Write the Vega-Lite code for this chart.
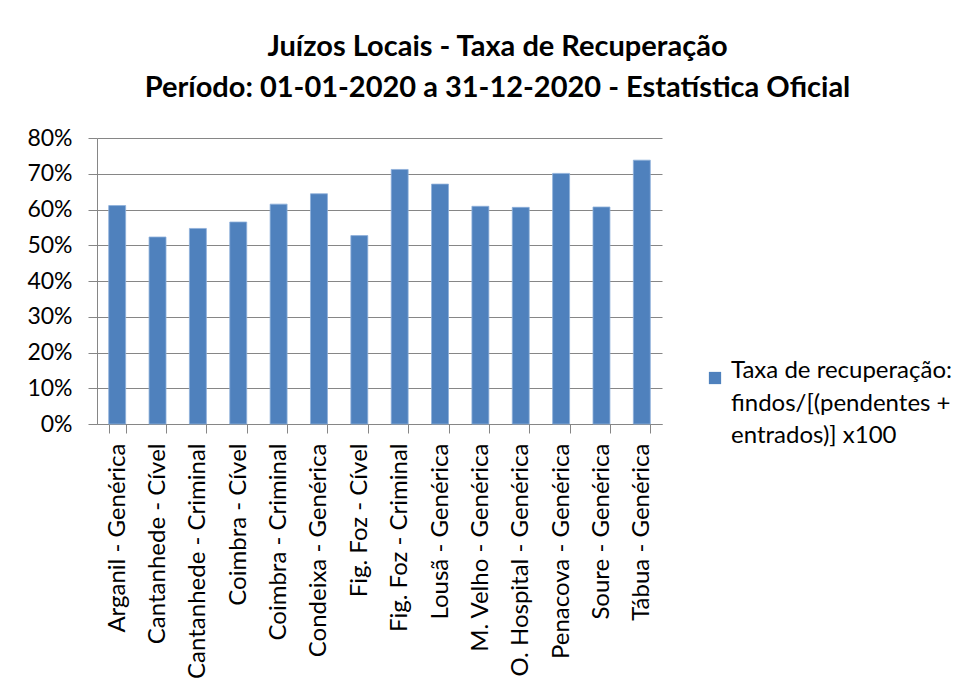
{
  "$schema": "https://vega.github.io/schema/vega-lite/v6.json",
  "width": 565,
  "height": 286,
  "autosize": {"type": "none"},
  "padding": {"left": 97, "top": 138, "right": 312, "bottom": 271},
  "background": "white",
  "title": {
    "text": ["Juízos Locais - Taxa de Recuperação", "Período: 01-01-2020 a 31-12-2020 - Estatística Oficial"],
    "font": "Lato",
    "fontSize": 29,
    "fontWeight": "bold",
    "color": "#000000",
    "lineHeight": 41,
    "anchor": "middle",
    "frame": "group",
    "dx": 118,
    "offset": 24
  },
  "data": {
    "values": [
      {"tribunal": "Arganil - Genérica", "taxa": 0.611, "serie": "Taxa de recuperação:|findos/[(pendentes +|entrados)] x100"},
      {"tribunal": "Cantanhede - Cível", "taxa": 0.523, "serie": "Taxa de recuperação:|findos/[(pendentes +|entrados)] x100"},
      {"tribunal": "Cantanhede - Criminal", "taxa": 0.547, "serie": "Taxa de recuperação:|findos/[(pendentes +|entrados)] x100"},
      {"tribunal": "Coimbra - Cível", "taxa": 0.565, "serie": "Taxa de recuperação:|findos/[(pendentes +|entrados)] x100"},
      {"tribunal": "Coimbra - Criminal", "taxa": 0.615, "serie": "Taxa de recuperação:|findos/[(pendentes +|entrados)] x100"},
      {"tribunal": "Condeixa - Genérica", "taxa": 0.644, "serie": "Taxa de recuperação:|findos/[(pendentes +|entrados)] x100"},
      {"tribunal": "Fig. Foz - Cível", "taxa": 0.527, "serie": "Taxa de recuperação:|findos/[(pendentes +|entrados)] x100"},
      {"tribunal": "Fig. Foz - Criminal", "taxa": 0.712, "serie": "Taxa de recuperação:|findos/[(pendentes +|entrados)] x100"},
      {"tribunal": "Lousã - Genérica", "taxa": 0.671, "serie": "Taxa de recuperação:|findos/[(pendentes +|entrados)] x100"},
      {"tribunal": "M. Velho - Genérica", "taxa": 0.609, "serie": "Taxa de recuperação:|findos/[(pendentes +|entrados)] x100"},
      {"tribunal": "O. Hospital - Genérica", "taxa": 0.606, "serie": "Taxa de recuperação:|findos/[(pendentes +|entrados)] x100"},
      {"tribunal": "Penacova - Genérica", "taxa": 0.701, "serie": "Taxa de recuperação:|findos/[(pendentes +|entrados)] x100"},
      {"tribunal": "Soure - Genérica", "taxa": 0.607, "serie": "Taxa de recuperação:|findos/[(pendentes +|entrados)] x100"},
      {"tribunal": "Tábua - Genérica", "taxa": 0.738, "serie": "Taxa de recuperação:|findos/[(pendentes +|entrados)] x100"}
    ]
  },
  "mark": {"type": "bar", "stroke": "#8eb0da", "strokeWidth": 0.8},
  "encoding": {
    "x": {
      "field": "tribunal",
      "type": "nominal",
      "sort": null,
      "scale": {"paddingInner": 0.58, "paddingOuter": 0.29},
      "axis": {
        "title": null,
        "labelAngle": -90,
        "labelFont": "Lato",
        "labelFontSize": 24,
        "labelColor": "#000000",
        "labelPadding": 10,
        "labelLimit": 300,
        "tickBand": "extent",
        "tickSize": 9,
        "tickColor": "#868686",
        "domainColor": "#868686",
        "grid": false
      }
    },
    "y": {
      "field": "taxa",
      "type": "quantitative",
      "scale": {"domain": [0, 0.8], "nice": false},
      "axis": {
        "title": null,
        "format": ".0%",
        "values": [0, 0.1, 0.2, 0.3, 0.4, 0.5, 0.6, 0.7, 0.8],
        "labelFont": "Lato",
        "labelFontSize": 23,
        "labelColor": "#000000",
        "labelPadding": 16,
        "tickSize": 9,
        "tickColor": "#868686",
        "domainColor": "#868686",
        "gridColor": "#868686",
        "gridOpacity": 1
      }
    },
    "color": {
      "field": "serie",
      "type": "nominal",
      "scale": {"range": ["#4f81bd"]},
      "legend": {
        "title": null,
        "orient": "none",
        "legendX": 606,
        "legendY": 228,
        "symbolType": "square",
        "symbolSize": 150,
        "symbolStrokeWidth": 0,
        "labelFont": "Lato",
        "labelFontSize": 24,
        "labelColor": "#000000",
        "labelLimit": 400,
        "labelOffset": 4,
        "labelBaseline": "alphabetic",
        "labelExpr": "split(datum.label, '|')"
      }
    }
  },
  "config": {
    "view": {"stroke": null},
    "style": {"guide-label": {"lineHeight": 32.5}}
  }
}
